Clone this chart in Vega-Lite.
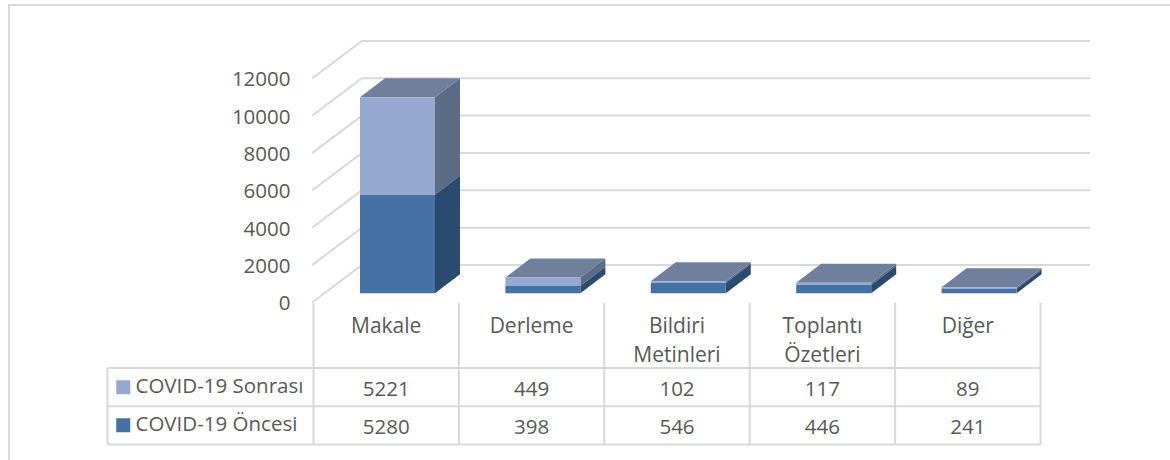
{
"$schema":"https://vega.github.io/schema/vega-lite/v6.json",
"width":1165,"height":458,"autosize":{"type":"none"},
"padding":{"left":9,"top":5,"right":0,"bottom":0},
"background":"white",
"config":{"view":{"stroke":"#d9d9d9","strokeWidth":2}},
"datasets":{
"main":[
{"cat":"Makale","series":"COVID-19 Sonrası","value":5221},
{"cat":"Derleme","series":"COVID-19 Sonrası","value":449},
{"cat":"Bildiri Metinleri","series":"COVID-19 Sonrası","value":102},
{"cat":"Toplantı Özetleri","series":"COVID-19 Sonrası","value":117},
{"cat":"Diğer","series":"COVID-19 Sonrası","value":89},
{"cat":"Makale","series":"COVID-19 Öncesi","value":5280},
{"cat":"Derleme","series":"COVID-19 Öncesi","value":398},
{"cat":"Bildiri Metinleri","series":"COVID-19 Öncesi","value":546},
{"cat":"Toplantı Özetleri","series":"COVID-19 Öncesi","value":446},
{"cat":"Diğer","series":"COVID-19 Öncesi","value":241}
],
"ticks":[{"tick":0},{"tick":2000},{"tick":4000},{"tick":6000},{"tick":8000},{"tick":10000},{"tick":12000}],
"cols":[{"col":0},{"col":1},{"col":2},{"col":3},{"col":4},{"col":5}],
"rows":[{"row":0},{"row":1},{"row":2}]
},
"resolve":{"scale":{"y":"independent"},"axis":{"y":"independent"}},
"layer":[
{
"data":{"name":"ticks"},
"transform":[
{"calculate":"[0,1,2]","as":"t"},{"flatten":["t"]},
{"calculate":"datum.t==0?-0.5103:(datum.t==1?-0.1664:4.8404)","as":"gx"},
{"calculate":"datum.tick+(datum.t>0?2009:0)","as":"gy"}
],
"mark":{"type":"line","color":"#d9d9d9","strokeWidth":2,"clip":false},
"encoding":{
"x":{"field":"gx","type":"quantitative","axis":null,"scale":{"domain":[-2.5942,5.4182],"nice":false,"zero":false}},
"y":{"field":"gy","type":"quantitative","scale":{"domain":[-8597,15934],"nice":false,"zero":false},
"axis":{"title":null,"domain":false,"ticks":false,"grid":false,"values":[0,2000,4000,6000,8000,10000,12000],"format":"d","labelFont":"Open Sans","labelFontSize":20.5,"labelColor":"#595959","labelPadding":0,"labelOffset":1.5,"offset":-281,"labelOverlap":false,"labelBound":false,"labelFlush":false}},
"detail":{"field":"tick"},
"order":{"field":"t"}
}
},
{
"data":{"name":"main"},
"transform":[
{"stack":"value","groupby":["cat"],"sort":[{"field":"series","order":"descending"}],"as":["v0","v1"]},
{"calculate":"indexof(['Makale','Derleme','Bildiri Metinleri','Toplantı Özetleri','Diğer'],datum.cat)","as":"i"},
{"calculate":"datum.i-0.1802","as":"xa"},
{"calculate":"datum.i+0.3356","as":"xb"},
{"calculate":"datum.cat+datum.series","as":"key"}
],
"layer":[
{
"transform":[
{"calculate":"[0,1]","as":"t"},{"flatten":["t"]},
{"calculate":"datum.xb+datum.t*0.1719","as":"px"},
{"calculate":"datum.v0+datum.t*1018","as":"p0"},
{"calculate":"datum.v1+datum.t*1018","as":"p1"}
],
"mark":{"type":"area","orient":"vertical","clip":false},
"encoding":{
"x":{"field":"px","type":"quantitative","axis":null,"scale":{"domain":[-2.5942,5.4182],"nice":false,"zero":false}},
"y":{"field":"p0","type":"quantitative","axis":null,"stack":null,"scale":{"domain":[-9089,15442],"nice":false,"zero":false}},
"y2":{"field":"p1"},
"detail":{"field":"key"},
"fill":{"condition":{"test":"datum.series=='COVID-19 Öncesi'","value":"#2b4a6f"},"value":"#5d6c85"}
}
},
{
"transform":[
{"filter":"datum.series=='COVID-19 Sonrası'"},
{"calculate":"[0,1,2,3]","as":"t"},{"flatten":["t"]},
{"calculate":"datum.t==0?datum.xa:(datum.t==1?datum.xa+0.1719:(datum.t==2?datum.xb:datum.xb+0.1719))","as":"px"},
{"calculate":"datum.t==3?datum.v1+1018:datum.v1","as":"p0"},
{"calculate":"datum.t==0?datum.v1:datum.v1+1018","as":"p1"}
],
"mark":{"type":"area","orient":"vertical","clip":false,"fill":"#707f9b"},
"encoding":{
"x":{"field":"px","type":"quantitative","axis":null,"scale":{"domain":[-2.5942,5.4182],"nice":false,"zero":false}},
"y":{"field":"p0","type":"quantitative","axis":null,"stack":null,"scale":{"domain":[-9089,15442],"nice":false,"zero":false}},
"y2":{"field":"p1"},
"detail":{"field":"key"}
}
},
{
"mark":{"type":"bar","clip":false},
"encoding":{
"x":{"field":"xa","type":"quantitative","axis":null,"scale":{"domain":[-2.5942,5.4182],"nice":false,"zero":false}},
"x2":{"field":"xb"},
"y":{"field":"v0","type":"quantitative","axis":null,"stack":null,"scale":{"domain":[-9089,15442],"nice":false,"zero":false}},
"y2":{"field":"v1"},
"color":{"field":"series","type":"nominal","scale":{"domain":["COVID-19 Sonrası","COVID-19 Öncesi"],"range":["#95a9d0","#4472a5"]},
"legend":{"title":null,"orient":"none","legendX":104,"legendY":372,"padding":0,"symbolType":"square","symbolSize":196,"symbolStrokeWidth":0,"symbolOpacity":1,"labelFont":"Open Sans","labelFontSize":20.5,"labelColor":"#595959","labelOffset":2,"labelLimit":300,"rowPadding":17}}
}
}
]
},
{
"data":{"name":"cols"},
"transform":[{"calculate":"datum.col-0.5","as":"ex"},{"calculate":"-1.7","as":"r0"},{"calculate":"2","as":"r1"}],
"mark":{"type":"rule","color":"#d9d9d9","strokeWidth":2,"clip":false},
"encoding":{
"x":{"field":"ex","type":"quantitative","axis":null,"scale":{"domain":[-2.5942,5.4182],"nice":false,"zero":false}},
"y":{"field":"r0","type":"quantitative","axis":null,"scale":{"domain":[0,2],"range":[363,439.5],"nice":false,"zero":false}},
"y2":{"field":"r1"}
}
},
{
"data":{"name":"rows"},
"transform":[{"calculate":"-1.917","as":"e0"},{"calculate":"4.5","as":"e1"}],
"mark":{"type":"rule","color":"#d9d9d9","strokeWidth":2,"clip":false},
"encoding":{
"x":{"field":"e0","type":"quantitative","axis":null,"scale":{"domain":[-2.5942,5.4182],"nice":false,"zero":false}},
"x2":{"field":"e1"},
"y":{"field":"row","type":"quantitative","axis":null,"scale":{"domain":[0,2],"range":[363,439.5],"nice":false,"zero":false}}
}
},
{
"data":{"values":[{"edge":-1.917}]},
"transform":[{"calculate":"0","as":"r0"},{"calculate":"2","as":"r1"}],
"mark":{"type":"rule","color":"#d9d9d9","strokeWidth":2,"clip":false},
"encoding":{
"x":{"field":"edge","type":"quantitative","axis":null,"scale":{"domain":[-2.5942,5.4182],"nice":false,"zero":false}},
"y":{"field":"r0","type":"quantitative","axis":null,"scale":{"domain":[0,2],"range":[363,439.5],"nice":false,"zero":false}},
"y2":{"field":"r1"}
}
},
{
"data":{"name":"main"},
"transform":[
{"calculate":"indexof(['Makale','Derleme','Bildiri Metinleri','Toplantı Özetleri','Diğer'],datum.cat)","as":"i"},
{"calculate":"datum.series=='COVID-19 Sonrası'?0.565:1.565","as":"r"}
],
"mark":{"type":"text","font":"Open Sans","fontSize":20.5,"color":"#595959","align":"center","baseline":"middle","clip":false},
"encoding":{
"x":{"field":"i","type":"quantitative","axis":null,"scale":{"domain":[-2.5942,5.4182],"nice":false,"zero":false}},
"y":{"field":"r","type":"quantitative","axis":null,"scale":{"domain":[0,2],"range":[363,439.5],"nice":false,"zero":false}},
"text":{"field":"value","type":"quantitative","format":"d"}
}
},
{
"data":{"name":"main"},
"transform":[
{"filter":"datum.series=='COVID-19 Öncesi'"},
{"calculate":"indexof(['Makale','Derleme','Bildiri Metinleri','Toplantı Özetleri','Diğer'],datum.cat)","as":"i"},
{"calculate":"-1.37","as":"r"}
],
"mark":{"type":"text","font":"Open Sans","fontSize":21,"color":"#595959","align":"center","baseline":"top","lineBreak":" ","lineHeight":29,"clip":false},
"encoding":{
"x":{"field":"i","type":"quantitative","axis":null,"scale":{"domain":[-2.5942,5.4182],"nice":false,"zero":false}},
"y":{"field":"r","type":"quantitative","axis":null,"scale":{"domain":[0,2],"range":[363,439.5],"nice":false,"zero":false}},
"text":{"field":"cat","type":"nominal"}
}
}
]
}
